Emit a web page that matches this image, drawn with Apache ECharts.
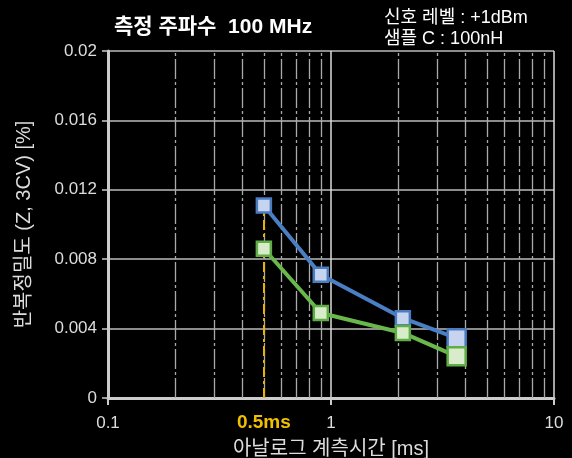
<!DOCTYPE html>
<html><head><meta charset="utf-8">
<script src="https://cdn.jsdelivr.net/npm/echarts@6/dist/echarts.min.js"></script>
<style>html,body{margin:0;padding:0;background:#000;}#c{width:572px;height:458px;}</style>
</head><body><div id="c"></div>
<script>
const titleText = '측정 주파수  100 MHz';
const infoLines = ['신호 레벨 : +1dBm', '샘플 C : 100nH'];
const xName = '아날로그 계측시간 [ms]';
const yName = '반복정밀도 (Z, 3CV) [%]';
const timesMs = [0.5, 0.9, 2.1, 3.66];
const seriesBlue = [0.0111, 0.0071, 0.0046, 0.00345];
const seriesGreen = [0.0086, 0.0049, 0.00375, 0.0024];
const markerSizes = [14, 14, 14, 18];
const minorTicks = [0.2,0.3,0.4,0.5,0.6,0.7,0.8,0.9,2,3,4,5,6,7,8,9];
const highlightX = 0.5;
const highlightLabel = '0.5ms';
const yTicks = [0, 0.004, 0.008, 0.012, 0.016, 0.02];

const FONT = '"Liberation Sans", "Noto Sans CJK KR", sans-serif';
function pts(vals){ return vals.map((v,i)=>({value:[timesMs[i], v], symbolSize: markerSizes[i]})); }

const chart = echarts.init(document.getElementById('c'));
chart.setOption({
  backgroundColor: '#000',
  animation: false,
  textStyle: {fontFamily: FONT},
  title: [
    {text: titleText, left: 109, top: 12, textStyle: {color: '#fff', fontSize: 21, fontWeight: 'bold', fontFamily: FONT}},
    {text: infoLines.join('\n'), left: 379, top: 3, textStyle: {color: '#fff', fontSize: 18, fontWeight: 'normal', lineHeight: 21, fontFamily: FONT}}
  ],
  grid: {left: 108, right: 18, top: 51, bottom: 60, containLabel: false, outerBoundsMode: 'none'},
  xAxis: {
    type: 'log', logBase: 10, min: 0.1, max: 10,
    name: xName, nameLocation: 'middle', nameGap: 41,
    nameTextStyle: {color: '#ddd', fontSize: 20, fontFamily: FONT},
    axisLine: {show: true, lineStyle: {color: '#ccc', width: 3}},
    axisTick: {show: true, length: 7, lineStyle: {color: '#ccc', width: 2}},
    axisLabel: {color: '#ddd', fontSize: 17, margin: 17, formatter: v => String(v), fontFamily: FONT},
    splitLine: {show: true, lineStyle: {color: '#ddd', width: 1.5}},
    minorTick: {show: false}
  },
  yAxis: {
    type: 'value', min: 0, max: 0.02, interval: 0.004,
    name: yName, nameLocation: 'middle', nameRotate: 90, nameGap: 74,
    nameTextStyle: {color: '#ddd', fontSize: 20, fontFamily: FONT},
    axisLine: {show: true, lineStyle: {color: '#ccc', width: 3}},
    axisTick: {show: true, length: 6, lineStyle: {color: '#ccc', width: 1.5}},
    axisLabel: {color: '#ddd', fontSize: 17, margin: 11, fontFamily: FONT,
      formatter: v => { const m = yTicks.find(t => Math.abs(t - v) < 1e-9); return m === 0 ? '0' : String(+v.toFixed(3)); }},
    splitLine: {show: true, lineStyle: {color: '#bbb', width: 1.5}}
  },
  series: [
    {
      type: 'line', data: [], silent: true,
      markLine: {
        silent: true, symbol: 'none', animation: false,
        label: {show: false},
        lineStyle: {color: '#aaa', width: 1.3, type: [20, 3, 3, 3]},
        data: minorTicks.map(v => ({xAxis: v}))
      }
    },
    {
      type: 'line', data: [], silent: true, z: 3,
      markLine: {
        silent: true, symbol: 'none', animation: false,
        lineStyle: {color: '#e6b400', width: 2, type: [10, 4, 3, 4]},
        label: {show: true, position: 'start', distance: 15, formatter: highlightLabel,
          color: '#f0c000', fontSize: 19, fontWeight: 'bold', fontFamily: FONT},
        data: [[{coord: [highlightX, 0]}, {coord: [highlightX, seriesBlue[0]]}]]
      }
    },
    {
      type: 'line', z: 5, data: pts(seriesBlue), symbol: 'rect',
      lineStyle: {color: '#4a7fc4', width: 4},
      itemStyle: {color: '#c6d4ef', borderColor: '#4a7cc0', borderWidth: 2.5}
    },
    {
      type: 'line', z: 5, data: pts(seriesGreen), symbol: 'rect',
      lineStyle: {color: '#6ab84c', width: 4},
      itemStyle: {color: '#d8ebca', borderColor: '#5fae45', borderWidth: 2.5}
    }
  ]
});
</script></body></html>
